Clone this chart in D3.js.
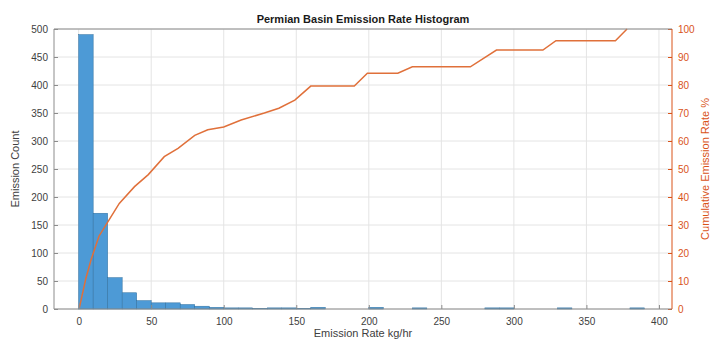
<!DOCTYPE html>
<html>
<head>
<meta charset="utf-8">
<script src="https://cdn.jsdelivr.net/npm/d3@7"></script>
<style>
  html, body { margin: 0; padding: 0; background: #fff; }
  svg { display: block; }
  text { font-family: "Liberation Sans", Arial, Helvetica, sans-serif; }
</style>
</head>
<body>
<svg id="chart" width="713" height="339"></svg>
<script>
// ---- data ----
const binWidth = 10;
const binStarts = [0,10,20,30,40,50,60,70,80,90,100,110,120,130,140,150,160,170,180,190,
                   200,210,220,230,240,250,260,270,280,290,300,310,320,330,340,350,360,370,380];
const binCounts = [490,171,56,29,15,11,11,8,5,3,2,2,1,2,2,1,3,0,0,0,
                   3,0,0,2,0,0,0,0,2,2,0,0,0,2,0,0,0,0,2];

const cumRate = [0.5,5,8.5,14,20,28,38.5,48,59,68.5,80,89,100,112,128,138,149,160,190,199,220,230,270,288,320,329,370,378];
const cumPct  = [0.5,11,17.5,26,31,37.7,43.7,48,54.4,57.4,62,64,65,67.5,70,71.7,74.6,79.6,79.6,84.2,84.2,86.5,86.5,92.5,92.5,95.8,95.8,100];

const xTicks = [0,50,100,150,200,250,300,350,400];
const yLeftTicks = [0,50,100,150,200,250,300,350,400,450,500];
const yRightTicks = [0,10,20,30,40,50,60,70,80,90,100];

const titleText = "Permian Basin Emission Rate Histogram";
const xLabel = "Emission Rate kg/hr";
const yLeftLabel = "Emission Count";
const yRightLabel = "Cumulative Emission Rate %";

// ---- layout ----
const L = 54, R = 672, T = 29, B = 309;
const orange = "#D95319";
const lineOrange = "#e0703a";
const axisGray = "#8c8c8c";
const textGray = "#404040";

const svg = d3.select("#chart");

const x = d3.scaleLinear().domain([-17, 409]).range([L, R]);
const yL = d3.scaleLinear().domain([0, 500]).range([B, T]);
const yR = d3.scaleLinear().domain([0, 100]).range([B, T]);

// grid
const grid = svg.append("g");
grid.selectAll("line.gx").data(xTicks).join("line")
  .attr("x1", d => x(d)).attr("x2", d => x(d)).attr("y1", T).attr("y2", B)
  .attr("stroke", "#e4e4e4").attr("stroke-width", 1);
grid.selectAll("line.gy").data(yLeftTicks).join("line")
  .attr("x1", L).attr("x2", R).attr("y1", d => yL(d)).attr("y2", d => yL(d))
  .attr("stroke", "#e4e4e4").attr("stroke-width", 1);

// bars
const bins = binStarts.map((s, i) => ({ x0: s, x1: s + binWidth, n: binCounts[i] })).filter(d => d.n > 0);
svg.append("g").selectAll("rect").data(bins).join("rect")
  .attr("x", d => x(d.x0))
  .attr("width", d => x(d.x1) - x(d.x0))
  .attr("y", d => yL(d.n))
  .attr("height", d => yL(0) - yL(d.n))
  .attr("fill", "#4d9ad6")
  .attr("stroke", "#2f6f9e")
  .attr("stroke-width", 0.5);

// cumulative line
const pts = cumRate.map((r, i) => [r, cumPct[i]]);
svg.append("path")
  .datum(pts)
  .attr("fill", "none")
  .attr("stroke", lineOrange)
  .attr("stroke-width", 1.5)
  .attr("d", d3.line().x(d => x(d[0])).y(d => yR(d[1])));

// axes
function styleAxis(g, color) {
  g.select(".domain").remove();
  g.selectAll(".tick line").attr("stroke", color);
  g.selectAll(".tick text").attr("fill", color).attr("font-size", 10);
}

const xAxis = svg.append("g").attr("transform", `translate(0,${B})`)
  .call(d3.axisBottom(x).tickValues(xTicks).tickSizeInner(-4).tickSizeOuter(0).tickPadding(9));
styleAxis(xAxis, textGray);
xAxis.selectAll(".tick line").attr("stroke", axisGray);

const yAxisL = svg.append("g").attr("transform", `translate(${L},0)`)
  .call(d3.axisLeft(yL).tickValues(yLeftTicks).tickSizeInner(-4).tickSizeOuter(0).tickPadding(6));
styleAxis(yAxisL, textGray);
yAxisL.selectAll(".tick line").attr("stroke", axisGray);

const yAxisR = svg.append("g").attr("transform", `translate(${R},0)`)
  .call(d3.axisRight(yR).tickValues(yRightTicks).tickSizeInner(-4).tickSizeOuter(0).tickPadding(6));
styleAxis(yAxisR, orange);

// frame
svg.append("line").attr("x1", L).attr("x2", R).attr("y1", T).attr("y2", T).attr("stroke", axisGray);
svg.append("line").attr("x1", L).attr("x2", R).attr("y1", B).attr("y2", B).attr("stroke", axisGray);
svg.append("line").attr("x1", L).attr("x2", L).attr("y1", T).attr("y2", B).attr("stroke", axisGray);
svg.append("line").attr("x1", R).attr("x2", R).attr("y1", T).attr("y2", B).attr("stroke", orange);

// labels
svg.append("text").attr("x", (L + R) / 2).attr("y", 23)
  .attr("text-anchor", "middle").attr("font-size", 11).attr("font-weight", "bold")
  .attr("fill", "#1a1a1a").text(titleText);

svg.append("text").attr("x", (L + R) / 2).attr("y", 337)
  .attr("text-anchor", "middle").attr("font-size", 11).attr("fill", textGray).text(xLabel);

svg.append("text").attr("transform", `translate(19,${(T + B) / 2}) rotate(-90)`)
  .attr("text-anchor", "middle").attr("font-size", 11).attr("fill", textGray).text(yLeftLabel);

svg.append("text").attr("transform", `translate(709,${(T + B) / 2}) rotate(-90)`)
  .attr("text-anchor", "middle").attr("font-size", 11).attr("fill", orange).text(yRightLabel);
</script>
</body>
</html>
